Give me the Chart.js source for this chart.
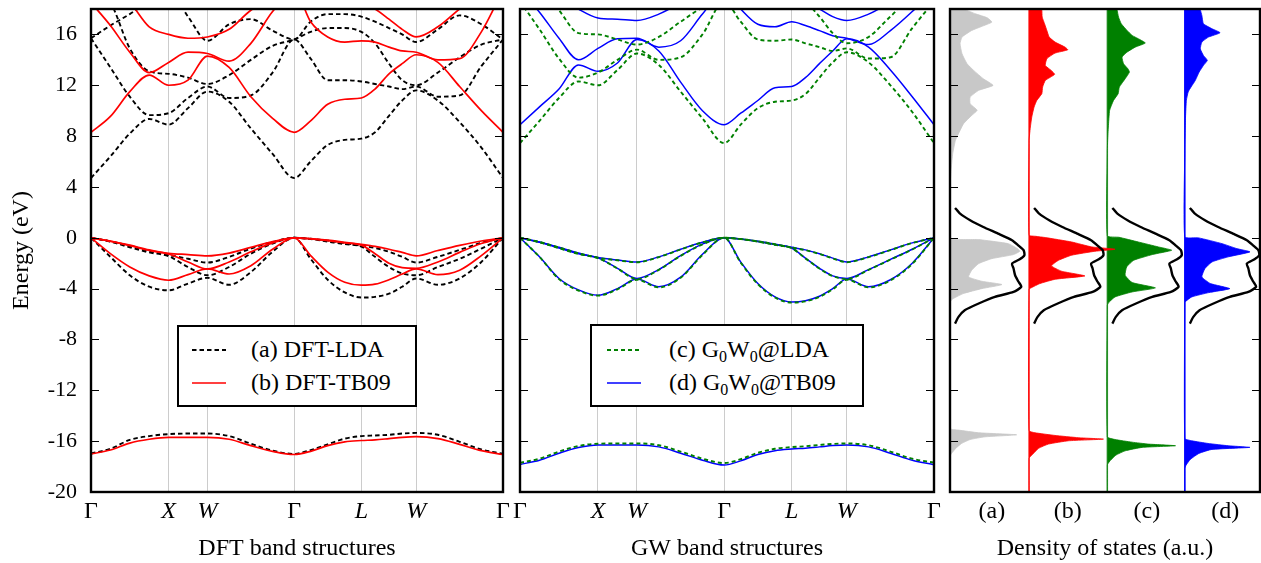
<!DOCTYPE html>
<html lang="en">
<head>
<meta charset="UTF-8" />
<title>Band structures and DOS</title>
<script src="https://cdn.jsdelivr.net/npm/chart.js"></script>
<style>
  body {margin:0;background:#fff;}
  #wrap {position:relative;width:1261px;height:563px;}
  #wrap canvas {position:absolute;left:0;top:0;}
  .leg {position:absolute;box-sizing:border-box;border:2px solid #000;background:#fff;
        font-family:'Liberation Serif','DejaVu Serif',serif;font-size:24px;color:#000;}
  .leg .row {display:flex;align-items:center;height:33px;white-space:nowrap;}
  .leg sub {font-size:16px;vertical-align:-5px;line-height:0;}
</style>
</head>
<body>
<div id="wrap">
  <canvas id="dft" width="1261" height="563"></canvas>
  <canvas id="gw" width="1261" height="563"></canvas>
  <canvas id="dos" width="1261" height="563"></canvas>
  <div class="leg" id="legDft" style="left:177px;top:325px;width:240px;height:82px;padding:6px 0 0 13px;"></div>
  <div class="leg" id="legGw" style="left:590px;top:324px;width:274px;height:83px;padding:7px 0 0 15px;"></div>
</div>
<script>
// --------- k-path and axes ---------
const kPath = [0, 0.25, 0.5, 0.75, 1, 1.25, 1.5, 1.78, 2.06, 2.34, 2.618, 2.83, 3.05, 3.27, 3.484, 3.66, 3.84, 4.01, 4.191, 4.47, 4.75, 5.03, 5.309];
const kTicks = [0, 1, 1.5, 2.618, 3.484, 4.191, 5.309];
const kLabels = ['Γ', 'X', 'W', 'Γ', 'L', 'W', 'Γ'];
const kItalic = [false, true, true, false, true, true, false];
const energyTicks = [-20, -16, -12, -8, -4, 0, 4, 8, 12, 16];

// --------- bands (eV), one row per band along kPath ---------
const ldaBands = [
  [4.7, 6.4, 8.2, 9.35, 8.9, 10.2, 11.5, 10.7, 8.6, 6.6, 4.7, 6.0, 7.3, 7.7, 7.8, 8.3, 9.6, 10.8, 11.6, 10.8, 9.1, 7.1, 4.7],
  [15.7, 13.4, 11.1, 9.65, 9.8, 11.0, 11.9, 11.0, 11.2, 13.0, 15.6, 14.1, 12.4, 12.4, 12.3, 12.1, 11.9, 11.7, 11.9, 11.1, 11.2, 13.5, 15.6],
  [15.7, 16.7, 17.6, 18.6, 19.5, 17.4, 15.5, 16.8, 17.2, 16.3, 15.6, 17.0, 17.6, 17.6, 17.4, 17.0, 16.5, 16.0, 15.4, 16.4, 17.5, 16.8, 15.6],
  [19.5, 18.5, 14.9, 13.1, 12.9, 12.6, 12.1, 12.8, 14.0, 15.1, 15.6, 16.2, 16.5, 16.5, 16.2, 15.3, 13.7, 12.4, 12.0, 13.0, 14.2, 15.2, 15.6],
  [0, -1.5, -2.95, -3.85, -4.13, -3.6, -3.15, -3.7, -2.7, -1.1, 0, -1.65, -3.3, -4.3, -4.7, -4.65, -4.4, -3.85, -3.2, -3.7, -3.2, -1.9, 0],
  [0, -0.3, -0.75, -1.15, -1.45, -2.3, -2.95, -2.3, -1.25, -0.45, 0, -0.1, -0.3, -0.5, -0.7, -1.5, -2.3, -2.8, -2.95, -2.3, -1.65, -0.85, 0],
  [0, -0.28, -0.65, -1.05, -1.35, -1.65, -1.95, -1.5, -0.85, -0.33, 0, -0.08, -0.22, -0.42, -0.62, -0.8, -1.1, -1.5, -1.95, -1.5, -0.95, -0.4, 0],
  [-16.97, -16.6, -15.9, -15.6, -15.45, -15.4, -15.4, -15.6, -16.2, -16.75, -17.0, -16.7, -16.25, -15.8, -15.6, -15.55, -15.5, -15.4, -15.35, -15.5, -16.05, -16.65, -17.0]
];
const tb09Bands = [
  [8.3, 9.55, 11.5, 12.8, 12.0, 12.4, 14.3, 13.4, 11.1, 9.4, 8.3, 9.2, 10.5, 10.9, 11.0, 11.7, 12.9, 13.7, 14.4, 13.8, 11.9, 10.0, 8.3],
  [18.5, 16.7, 14.6, 13.0, 13.8, 14.6, 14.5, 13.9, 15.3, 17.8, 19.5, 17.0, 15.8, 15.4, 15.5, 15.4, 15.0, 14.7, 14.6, 14.0, 14.1, 16.2, 19.5],
  [19.5, 19.5, 18.5, 16.6, 16.0, 15.7, 15.8, 16.4, 17.9, 18.8, 20, 19.5, 19.0, 18.5, 18.5, 18.0, 17.2, 16.4, 15.8, 16.6, 18.0, 19.2, 20],
  [0, -1.25, -2.3, -3.0, -3.34, -2.9, -2.45, -2.85, -2.2, -0.9, 0, -1.4, -2.7, -3.5, -3.73, -3.65, -3.3, -2.85, -2.45, -2.9, -2.55, -1.4, 0],
  [0, -0.28, -0.62, -1.0, -1.28, -1.9, -2.45, -1.9, -1.1, -0.4, 0, -0.08, -0.22, -0.4, -0.58, -1.25, -2.0, -2.35, -2.4, -1.9, -1.15, -0.45, 0],
  [0, -0.25, -0.58, -0.95, -1.22, -1.32, -1.42, -1.2, -0.75, -0.3, 0, -0.06, -0.18, -0.35, -0.52, -0.68, -0.9, -1.15, -1.42, -1.0, -0.6, -0.25, 0],
  [-17.0, -16.7, -16.15, -15.85, -15.7, -15.7, -15.7, -15.85, -16.35, -16.8, -17.05, -16.8, -16.35, -16.05, -15.95, -15.9, -15.8, -15.7, -15.65, -15.8, -16.25, -16.75, -17.05]
];
const gwLdaBands = [
  [7.45, 9.2, 11.0, 12.3, 12.0, 13.2, 14.5, 13.6, 11.5, 9.4, 7.45, 8.9, 10.2, 10.7, 10.8, 11.3, 12.6, 13.8, 14.6, 13.8, 12.0, 9.9, 7.45],
  [18.6, 16.4, 14.1, 12.6, 13.0, 14.0, 14.8, 14.0, 14.2, 16.0, 18.6, 17.0, 15.6, 15.5, 15.6, 15.3, 15.0, 14.7, 14.9, 14.1, 14.2, 16.5, 18.6],
  [18.6, 19.7, 17.9, 16.1, 16.0, 15.6, 15.2, 15.8, 17.0, 18.1, 18.6, 19.5, 19.8, 19.5, 19.3, 18.6, 17.4, 16.1, 15.3, 15.8, 17.4, 18.8, 18.6],
  [0, -1.5, -3.25, -4.15, -4.55, -4.05, -3.3, -3.9, -3.15, -1.35, 0, -1.95, -3.65, -4.7, -5.1, -5.0, -4.65, -4.05, -3.3, -3.9, -3.35, -2.05, 0],
  [0, -0.35, -0.82, -1.27, -1.6, -2.42, -3.25, -2.52, -1.42, -0.52, 0, -0.1, -0.3, -0.56, -0.82, -1.62, -2.42, -3.02, -3.25, -2.52, -1.72, -0.92, 0],
  [0, -0.33, -0.76, -1.22, -1.57, -1.77, -1.92, -1.52, -0.92, -0.36, 0, -0.1, -0.28, -0.51, -0.77, -0.97, -1.27, -1.62, -1.92, -1.52, -0.97, -0.41, 0],
  [-17.7, -17.38, -16.82, -16.38, -16.2, -16.18, -16.18, -16.32, -16.82, -17.38, -17.72, -17.42, -16.92, -16.6, -16.47, -16.4, -16.3, -16.22, -16.18, -16.32, -16.82, -17.38, -17.7]
];
const gwTb09Bands = [
  [8.9, 10.3, 11.7, 13.6, 13.1, 13.75, 15.6, 14.7, 12.25, 10.0, 8.9, 9.8, 10.8, 11.8, 11.9, 12.6, 13.7, 14.7, 15.65, 15.0, 13.2, 11.1, 8.9],
  [19.5, 17.75, 15.7, 14.0, 14.9, 15.65, 15.7, 15.0, 15.5, 17.6, 19.5, 18.0, 16.8, 16.6, 17.0, 16.7, 16.3, 15.9, 15.7, 15.2, 16.3, 17.8, 19.5],
  [20, 19.5, 19.0, 18.0, 17.3, 17.2, 17.1, 17.6, 18.5, 19.5, 20, 19.5, 19.5, 19.0, 19.0, 18.5, 18.0, 17.4, 17.1, 17.6, 18.5, 19.5, 20],
  [0, -1.5, -3.2, -4.1, -4.52, -4.0, -3.25, -3.85, -3.1, -1.3, 0, -1.9, -3.6, -4.65, -5.05, -4.95, -4.6, -4.0, -3.25, -3.85, -3.3, -2.0, 0],
  [0, -0.35, -0.8, -1.25, -1.58, -2.4, -3.2, -2.5, -1.4, -0.5, 0, -0.1, -0.3, -0.55, -0.8, -1.6, -2.4, -3.0, -3.2, -2.5, -1.7, -0.9, 0],
  [0, -0.33, -0.75, -1.2, -1.55, -1.75, -1.9, -1.5, -0.9, -0.35, 0, -0.1, -0.28, -0.5, -0.75, -0.95, -1.25, -1.6, -1.9, -1.5, -0.95, -0.4, 0],
  [-17.83, -17.5, -16.95, -16.5, -16.3, -16.3, -16.3, -16.45, -16.95, -17.5, -17.88, -17.55, -17.05, -16.75, -16.62, -16.55, -16.45, -16.35, -16.3, -16.45, -16.95, -17.5, -17.85]
];

// --------- density of states: energy (eV) / height (a.u.) ---------
const dosLabels = ['(a)', '(b)', '(c)', '(d)'];
const dosLabelPos = [0.54, 1.52, 2.54, 3.55];
const dosBase = [0, 1.02, 2.03, 3.03];
const dosEnergyA = [-20, -17.18, -16.97, -16.57, -16.18, -15.87, -15.66, -15.5, -15.34, -15.13, -15.0,
  -5.04, -4.78, -4.39, -4.0, -3.68, -3.42, -3.08, -2.55, -2.03, -1.64, -1.32, -1.06, -0.85, -0.46, -0.14, 0.0,
  4.3, 4.52, 5.57, 6.62, 7.67, 8.45, 8.98, 9.63, 10.03, 10.55, 11.07, 11.6, 11.99, 12.51, 13.17, 13.69, 14.48, 15.27, 15.79, 16.31, 16.63, 16.97, 17.31, 17.62, 17.97, 18.5];
const dosA = [0, 0, 0.02, 0.073, 0.15, 0.26, 0.45, 0.86, 0.37, 0.11, 0,
  0, 0.043, 0.17, 0.41, 0.67, 0.41, 0.24, 0.28, 0.37, 0.54, 0.82, 0.9, 0.87, 0.75, 0.37, 0,
  0, 0.005, 0.017, 0.035, 0.07, 0.13, 0.175, 0.28, 0.35, 0.26, 0.26, 0.37, 0.555, 0.43, 0.305, 0.22, 0.155, 0.13, 0.155, 0.28, 0.41, 0.54, 0.48, 0.33, 0.2, 0.15];
const dosEnergyB = [-20, -17.36, -17.23, -16.97, -16.57, -16.23, -15.97, -15.84, -15.73, -15.55, -15.34, -15.18,
  -4.05, -3.94, -3.6, -3.26, -3.0, -2.63, -2.21, -1.77, -1.37, -1.06, -0.9, -0.72, -0.33, 0.02, 0.12, 0.2,
  7.67, 8.19, 8.71, 9.5, 10.29, 10.81, 11.34, 11.86, 12.38, 12.86, 13.17, 13.56, 14.09, 14.53, 14.79, 15.0, 15.4, 15.79, 16.31, 16.84, 17.36, 17.97, 18.5];
const dosB = [0, 0, 0.013, 0.056, 0.12, 0.25, 0.51, 0.96, 0.64, 0.335, 0.077, 0,
  0, 0.026, 0.14, 0.34, 0.72, 0.42, 0.29, 0.38, 0.55, 0.85, 1.11, 0.81, 0.55, 0.21, 0.08, 0,
  0, 0.008, 0.017, 0.035, 0.065, 0.1, 0.165, 0.175, 0.21, 0.33, 0.285, 0.21, 0.23, 0.335, 0.5, 0.465, 0.335, 0.26, 0.23, 0.2, 0.17, 0.165, 0.16];
const dosEnergyC = [-20, -17.88, -17.8, -17.49, -17.1, -16.76, -16.49, -16.36, -16.23, -16.08, -15.87, -15.66,
  -5.3, -5.04, -4.65, -4.26, -3.94, -3.52, -2.95, -2.29, -1.77, -1.32, -0.98, -0.72, -0.33, 0.04, 0.15,
  6.88, 7.67, 8.71, 10.03, 10.81, 11.34, 11.86, 12.51, 13.04, 13.3, 13.69, 14.22, 14.61, 15.0, 15.32, 15.58, 15.92, 16.31, 16.84, 17.36, 17.97, 18.5];
const dosC = [0, 0, 0.004, 0.043, 0.11, 0.23, 0.45, 0.88, 0.53, 0.32, 0.1, 0,
  0, 0.026, 0.1, 0.32, 0.62, 0.32, 0.23, 0.25, 0.34, 0.58, 0.83, 0.66, 0.4, 0.15, 0,
  0, 0.004, 0.013, 0.03, 0.08, 0.14, 0.155, 0.23, 0.285, 0.265, 0.21, 0.19, 0.255, 0.36, 0.49, 0.425, 0.32, 0.255, 0.18, 0.145, 0.125, 0.12];
const dosEnergyD = [-20, -18.15, -17.88, -17.44, -16.97, -16.65, -16.49, -16.36, -16.18, -15.97, -15.79,
  -5.1, -4.99, -4.65, -4.31, -4.0, -3.6, -3.08, -2.42, -1.9, -1.5, -1.11, -0.85, -0.46, -0.01, 0.07,
  6.88, 8.19, 9.5, 10.81, 11.47, 11.86, 12.38, 13.04, 13.56, 13.96, 14.35, 14.87, 15.4, 15.79, 16.13, 16.45, 16.84, 17.49, 17.97, 18.5];
const dosD = [0, 0, 0.017, 0.07, 0.18, 0.35, 0.84, 0.56, 0.3, 0.09, 0,
  0, 0.013, 0.09, 0.31, 0.58, 0.33, 0.22, 0.26, 0.35, 0.56, 0.84, 0.67, 0.48, 0.18, 0,
  0, 0.004, 0.009, 0.02, 0.043, 0.08, 0.135, 0.185, 0.24, 0.29, 0.24, 0.2, 0.22, 0.305, 0.455, 0.35, 0.24, 0.22, 0.2, 0.2];
// black valence-band curve drawn in every column
const expEnergy = [-6.75, -6.22, -5.7, -5.17, -4.65, -4.26, -3.86, -3.42, -2.95, -2.42, -2.03, -1.69, -1.37, -0.98, -0.59, -0.19, 0.33, 0.85, 1.38, 1.9, 2.35];
const expDos = [0.065, 0.11, 0.19, 0.37, 0.58, 0.82, 0.92, 0.88, 0.84, 0.82, 0.8, 0.9, 0.96, 0.95, 0.88, 0.8, 0.62, 0.43, 0.26, 0.13, 0.065];

// --------- helpers ---------
const SERIF = "'Liberation Serif', 'DejaVu Serif', serif";
const W = 1261;

const framePlugin = {
  id: 'frame',
  afterDraw(chart) {
    const {ctx, chartArea: a} = chart;
    const y = chart.scales.y;
    ctx.save();
    ctx.strokeStyle = '#000';
    ctx.lineWidth = 1.2;
    energyTicks.forEach(v => {
      const py = Math.round(y.getPixelForValue(v)) + 0.5;
      ctx.beginPath();
      ctx.moveTo(a.left, py); ctx.lineTo(a.left + 8, py);
      ctx.moveTo(a.right, py); ctx.lineTo(a.right - 8, py);
      ctx.stroke();
    });
    ctx.lineWidth = 2.4;
    ctx.strokeRect(a.left, a.top, a.right - a.left, a.bottom - a.top);
    ctx.restore();
  }
};

function yScale(show) {
  return {
    type: 'linear', min: -20, max: 18, display: show,
    afterBuildTicks: s => { s.ticks = energyTicks.map(v => ({value: v})); },
    afterFit: s => { if (show) s.width = 91; s.paddingTop = 0; s.paddingBottom = 0; },
    grid: {display: false, drawTicks: false}, border: {display: false},
    ticks: {color: '#000', padding: 14, font: {family: SERIF, size: 22}, callback: v => String(v)},
    title: {display: show, text: 'Energy (eV)', color: '#000', font: {family: SERIF, size: 24}, padding: {top: 7}}
  };
}

function xTitle(text) {
  return {display: true, text, color: '#000', font: {family: SERIF, size: 24}, padding: {top: 0, bottom: 0}};
}

function bandSets(bands, style) {
  return bands.map(b => Object.assign({data: b.map((e, i) => ({x: kPath[i], y: e})), pointRadius: 0, fill: false}, style));
}

function bandChart(id, left, right, datasets, title, showY) {
  return new Chart(document.getElementById(id), {
    type: 'line',
    data: {datasets},
    options: {
      responsive: false, animation: false, events: [],
      layout: {padding: {left, right: W - right, top: 9, bottom: 0}},
      plugins: {legend: {display: false}, tooltip: {enabled: false}},
      elements: {line: {cubicInterpolationMode: 'monotone'}},
      scales: {
        x: {
          type: 'linear', min: 0, max: kTicks[kTicks.length - 1],
          afterBuildTicks: s => { s.ticks = kTicks.map(v => ({value: v})); },
          afterFit: s => { s.height = 71; },
          grid: {color: '#cccccc', lineWidth: 1, drawTicks: false}, border: {display: false},
          ticks: {autoSkip: false, maxRotation: 0, padding: 5, color: '#000',
                  font: c => ({family: SERIF, size: 24, style: kItalic[c.index] ? 'italic' : 'normal'}),
                  callback: (v, i) => kLabels[i]},
          title: xTitle(title)
        },
        y: yScale(showY)
      }
    },
    plugins: [framePlugin]
  });
}

// --------- band structure panels ---------
bandChart('dft', 0, 503, [
  ...bandSets(tb09Bands, {borderColor: '#ff0000', borderWidth: 1.7, order: 0}),
  ...bandSets(ldaBands, {borderColor: '#000000', borderWidth: 1.9, borderDash: [4.5, 3], order: 1})
], 'DFT band structures', true);

bandChart('gw', 520, 934, [
  ...bandSets(gwLdaBands, {borderColor: '#008000', borderWidth: 1.9, borderDash: [4, 3], order: 0}),
  ...bandSets(gwTb09Bands, {borderColor: '#0000ff', borderWidth: 1.5, order: 1})
], 'GW band structures', false);

// --------- DOS panel ---------
const dosCols = [
  {e: dosEnergyA, v: dosA, fill: '#c8c8c8', line: '#c8c8c8'},
  {e: dosEnergyB, v: dosB, fill: '#ff0000', line: '#ff2a2a'},
  {e: dosEnergyC, v: dosC, fill: '#008000', line: '#4f9f4f'},
  {e: dosEnergyD, v: dosD, fill: '#0000ff', line: '#0000ff'}
];
const dosSets = [];
dosCols.forEach((c, i) => {
  const base = dosBase[i];
  dosSets.push({data: c.e.map((e, j) => ({x: base + c.v[j], y: e})), borderColor: c.fill, borderWidth: 0.8,
                backgroundColor: c.fill, fill: {value: base}, tension: 0.15, pointRadius: 0, order: 1});
  dosSets.push({data: expEnergy.map((e, j) => ({x: base + expDos[j], y: e})), borderColor: '#000', borderWidth: 2.4,
                fill: false, tension: 0.2, pointRadius: 0, order: 0});
  if (i > 0) {
    dosSets.push({data: [{x: base, y: -20}, {x: base, y: 18}], borderColor: c.line, borderWidth: 1.5,
                  fill: false, pointRadius: 0, order: 2});
  }
});

new Chart(document.getElementById('dos'), {
  type: 'line',
  data: {datasets: dosSets},
  options: {
    indexAxis: 'y',
    responsive: false, animation: false, events: [],
    layout: {padding: {left: 950, right: W - 1260, top: 9, bottom: 0}},
    plugins: {legend: {display: false}, tooltip: {enabled: false}},
    scales: {
      x: {
        type: 'linear', min: 0, max: 4,
        afterBuildTicks: s => { s.ticks = dosLabelPos.map(v => ({value: v})); },
        afterFit: s => { s.height = 71; },
        grid: {display: false, drawTicks: false}, border: {display: false},
        ticks: {autoSkip: false, maxRotation: 0, padding: 5, color: '#000', font: {family: SERIF, size: 24},
                callback: (v, i) => dosLabels[i]},
        title: xTitle('Density of states (a.u.)')
      },
      y: yScale(false)
    }
  },
  plugins: [framePlugin]
});

// --------- legends ---------
function buildLegend(el, entries) {
  el.innerHTML = entries.map(e =>
    `<div class="row"><svg width="34" height="8" style="margin-right:${e.gap}px"><line x1="0" y1="4" x2="34" y2="4" stroke="${e.color}" stroke-width="${e.width}" stroke-dasharray="${e.dash || 'none'}"/></svg><span>${e.label}</span></div>`
  ).join('');
}
buildLegend(document.getElementById('legDft'), [
  {label: '(a) DFT-LDA', color: '#000', width: 1.9, dash: '4.5 3', gap: 25},
  {label: '(b) DFT-TB09', color: '#ff0000', width: 1.7, gap: 25}
]);
buildLegend(document.getElementById('legGw'), [
  {label: '(c) G<sub>0</sub>W<sub>0</sub>@LDA', color: '#008000', width: 1.9, dash: '4 3', gap: 28},
  {label: '(d) G<sub>0</sub>W<sub>0</sub>@TB09', color: '#0000ff', width: 1.5, gap: 28}
]);
</script>
</body>
</html>
